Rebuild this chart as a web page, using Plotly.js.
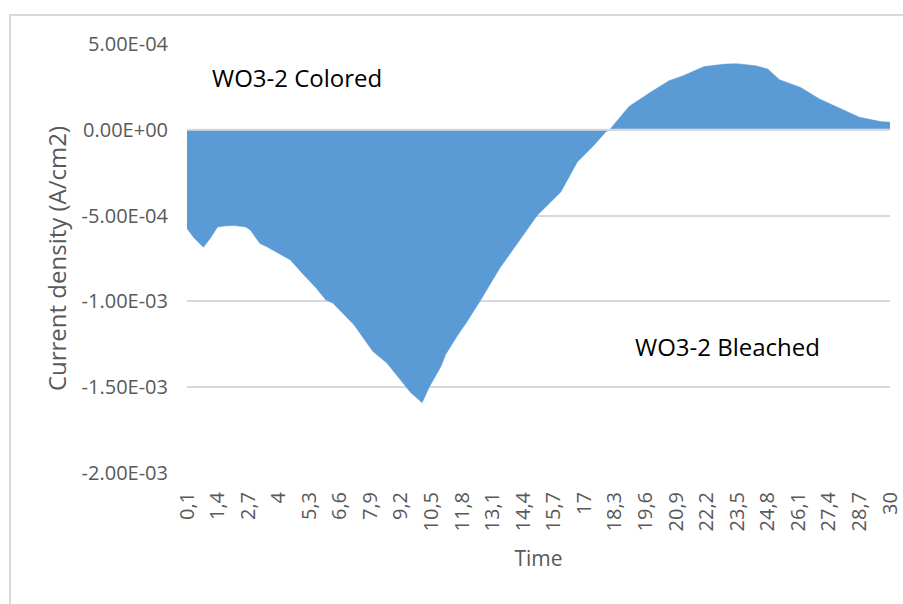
<!DOCTYPE html>
<html>
<head>
<meta charset="utf-8">
<script src="https://cdn.plot.ly/plotly-3.0.1.min.js"></script>
<style>
  html, body { margin: 0; padding: 0; background: #ffffff; }
  #wrap { position: relative; width: 903px; height: 604px; overflow: hidden; }
  #chart { position: absolute; left: 0; top: 0; width: 903px; height: 604px; }
  #frame { position: absolute; left: 9px; top: 14px; width: 920px; height: 620px;
           border: 2px solid #d9d9d9; pointer-events: none; }
</style>
</head>
<body>
<div id="wrap">
  <div id="chart"></div>
  <div id="frame"></div>
</div>
<script>
// Time (s) and current density (A/cm2)
const time = [0.1, 0.4, 0.8, 1.1, 1.4, 1.7, 2.1, 2.4, 2.6, 2.8, 3.2, 3.5, 3.9, 4.5, 5.0, 5.6, 6.0, 6.3,
              7.2, 8.0, 8.6, 9.3, 9.6, 10.1, 10.4, 10.9, 11.1, 11.6, 12.0, 12.6, 13.4, 14.3, 15.0,
              16.0, 16.7, 17.4, 17.9, 18.1, 18.9, 19.8, 20.6, 21.2, 22.1, 23.0, 23.5, 24.3, 24.8,
              25.3, 26.2, 27.0, 27.9, 28.7, 29.6, 30.0];
const current = [-5.75e-4, -6.30e-4, -6.85e-4, -6.30e-4, -5.66e-4, -5.60e-4, -5.58e-4, -5.62e-4, -5.66e-4,
                 -5.85e-4, -6.62e-4, -6.82e-4, -7.11e-4, -7.59e-4, -8.36e-4, -9.23e-4, -9.91e-4, -1.010e-3,
                 -1.136e-3, -1.291e-3, -1.359e-3, -1.475e-3, -1.530e-3, -1.590e-3, -1.500e-3, -1.380e-3,
                 -1.310e-3, -1.200e-3, -1.120e-3, -9.90e-4, -8.07e-4, -6.33e-4, -4.98e-4,
                 -3.62e-4, -1.88e-4, -9.1e-5, -1.4e-5, 5e-6, 1.36e-4, 2.18e-4, 2.86e-4, 3.15e-4, 3.69e-4,
                 3.83e-4, 3.85e-4, 3.73e-4, 3.54e-4, 2.92e-4, 2.47e-4, 1.80e-4, 1.22e-4, 7.3e-5, 4.8e-5, 4.4e-5];

const xTickLabels = ["0,1", "1,4", "2,7", "4", "5,3", "6,6", "7,9", "9,2", "10,5", "11,8", "13,1", "14,4",
                     "15,7", "17", "18,3", "19,6", "20,9", "22,2", "23,5", "24,8", "26,1", "27,4", "28,7", "30"];
const yTickValues = [5e-4, 0, -5e-4, -1e-3, -1.5e-3, -2e-3];
const yTickLabels = ["5.00E-04", "0.00E+00", "-5.00E-04", "-1.00E-03", "-1.50E-03", "-2.00E-03"];

const xTickValues = xTickLabels.map(s => parseFloat(s.replace(",", ".")));

const FONT = "Open Sans, Liberation Sans, sans-serif";
const GREY = "#595959";

const trace = {
  type: "scatter",
  mode: "lines",
  x: time,
  y: current,
  fill: "tozeroy",
  fillcolor: "#5b9bd5",
  line: { color: "#5b9bd5", width: 0.5 },
  hoverinfo: "x+y",
  showlegend: false
};

const layout = {
  width: 903,
  height: 604,
  margin: { l: 187, r: 13, t: 44, b: 131, pad: 0 },
  paper_bgcolor: "rgba(0,0,0,0)",
  plot_bgcolor: "#ffffff",
  font: { family: FONT, color: GREY },
  showlegend: false,
  xaxis: {
    type: "linear",
    range: [time[0], time[time.length - 1]],
    tickmode: "array",
    tickvals: xTickValues,
    ticktext: xTickLabels,
    tickangle: -90,
    ticks: "",
    ticklabelstandoff: 14,
    tickfont: { family: FONT, size: 20, color: GREY },
    showgrid: false,
    zeroline: false,
    showline: false,
    title: { text: "Time", font: { family: FONT, size: 21, color: GREY }, standoff: 20 }
  },
  yaxis: {
    range: [-2e-3, 5e-4],
    tickmode: "array",
    tickvals: yTickValues,
    ticktext: yTickLabels,
    ticks: "",
    ticklabelstandoff: 18,
    tickfont: { family: FONT, size: 20, color: GREY },
    showgrid: true,
    gridcolor: "#d9d9d9",
    gridwidth: 1.5,
    zeroline: false,
    showline: false,
    title: { text: "Current density (A/cm2)", font: { family: FONT, size: 24, color: GREY }, standoff: 8 }
  },
  shapes: [{
    type: "line", xref: "paper", x0: 0, x1: 1, yref: "y", y0: 0, y1: 0,
    line: { color: "#d9d9d9", width: 2 }, layer: "above"
  }],
  annotations: [
    { text: "WO3-2 Colored", xref: "paper", yref: "paper", x: 0.033, y: 0.921,
      xanchor: "left", yanchor: "middle", showarrow: false,
      font: { family: FONT, size: 24, color: "#000000" } },
    { text: "WO3-2 Bleached", xref: "paper", yref: "paper", x: 0.634, y: 0.294,
      xanchor: "left", yanchor: "middle", showarrow: false,
      font: { family: FONT, size: 24, color: "#000000" } }
  ]
};

Plotly.newPlot("chart", [trace], layout, { displayModeBar: false, responsive: false });
</script>
</body>
</html>
